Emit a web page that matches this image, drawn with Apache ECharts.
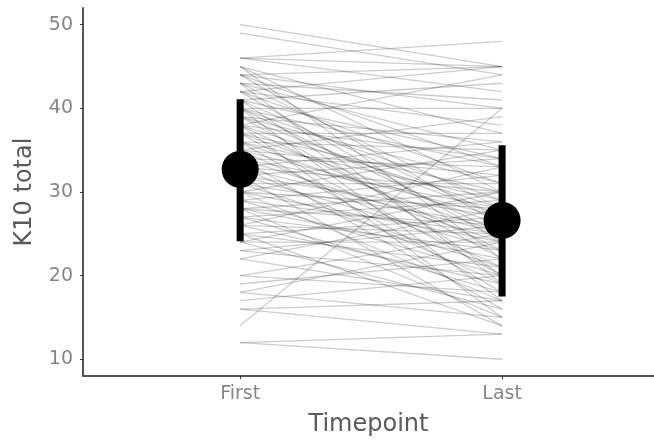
<!DOCTYPE html>
<html>
<head>
<meta charset="utf-8">
<script src="https://cdn.jsdelivr.net/npm/echarts@6/dist/echarts.min.js"></script>
<style>html,body{margin:0;padding:0;background:#fff;}#c{width:654px;height:443px;}</style>
</head>
<body>
<div id="c"></div>
<script>
var categories = ['First', 'Last'];
var yTicks = [10, 20, 30, 40, 50];
var firstScores = [50,49,46,46,46,45,45,45,44,44,44,44,43,43,43,43,42,42,42,42,41,41,41,41,40,40,40,40,40,39,39,39,39,38,38,38,38,38,37,37,37,37,36,36,36,36,35,35,35,35,34,34,34,34,33,33,33,33,32,32,32,32,31,31,31,30,30,30,30,29,29,29,28,28,28,28,27,27,27,26,26,26,25,25,25,24,24,24,23,23,22,22,20,20,19,18,18,17,16,16,14,12,12];
var lastScores = [45,44,48,45,42,37,30,22,45,40,33,26,41,35,28,19,45,38,31,24,43,34,27,20,40,33,29,25,17,36,31,27,22,44,34,28,23,15,37,30,26,20,35,29,25,18,39,32,27,21,33,28,24,16,36,30,25,19,34,27,23,14,31,26,21,35,28,24,17,32,25,20,30,26,22,15,29,23,18,33,25,19,27,21,14,30,24,16,26,20,28,17,25,18,22,24,15,20,17,13,40,13,10];
var groupMeans = [32.7, 26.6];
var groupLower = [24.1, 17.5];
var groupUpper = [41.1, 35.6];

var font = '"DejaVu Sans", sans-serif';
var series = [];
for (var i = 0; i < firstScores.length; i++) {
  series.push({
    type: 'line', silent: true, symbol: 'none', animation: false,
    data: [[1, firstScores[i]], [2, lastScores[i]]],
    lineStyle: { color: 'rgba(0,0,0,0.2)', width: 1.3 },
    z: 1
  });
}
for (var j = 0; j < categories.length; j++) {
  series.push({
    type: 'line', silent: true, symbol: 'none', animation: false,
    data: [[j + 1, groupLower[j]], [j + 1, groupUpper[j]]],
    lineStyle: { color: '#000', width: 7, cap: 'butt', opacity: 1 },
    z: 3
  });
}
series.push({
  type: 'scatter', silent: true, animation: false,
  data: groupMeans.map(function (m, k) { return [k + 1, m]; }),
  symbolSize: 37,
  itemStyle: { color: '#000', opacity: 1 },
  z: 4
});

var chart = echarts.init(document.getElementById('c'), null, { renderer: 'canvas' });
chart.setOption({
  backgroundColor: '#fff',
  animation: false,
  grid: { left: 83, right: 0, top: 8, bottom: 67, containLabel: false },
  xAxis: {
    type: 'value', min: 0.4, max: 2.58,
    name: 'Timepoint', nameLocation: 'middle', nameGap: 37,
    nameTextStyle: { color: '#5a5a5a', fontSize: 24, fontFamily: font },
    axisLine: { show: true, lineStyle: { color: '#555', width: 2 } },
    axisTick: { show: true, length: 3, lineStyle: { color: '#333', width: 1 }, customValues: [1, 2] },
    axisLabel: { color: '#858585', fontSize: 19, fontFamily: font, margin: 9, customValues: [1, 2],
      formatter: function (v) { return categories[Math.round(v) - 1] || ''; } },
    splitLine: { show: false }
  },
  yAxis: {
    type: 'value', min: 8, max: 52,
    name: 'K10 total', nameLocation: 'middle', nameGap: 46, nameRotate: 90,
    nameTextStyle: { color: '#5a5a5a', fontSize: 24, fontFamily: font },
    axisLine: { show: true, lineStyle: { color: '#555', width: 2 } },
    axisTick: { show: true, length: 3, lineStyle: { color: '#333', width: 1 }, customValues: yTicks },
    axisLabel: { color: '#858585', fontSize: 19, fontFamily: font, margin: 10, customValues: yTicks },
    splitLine: { show: false }
  },
  series: series
});
</script>
</body>
</html>
